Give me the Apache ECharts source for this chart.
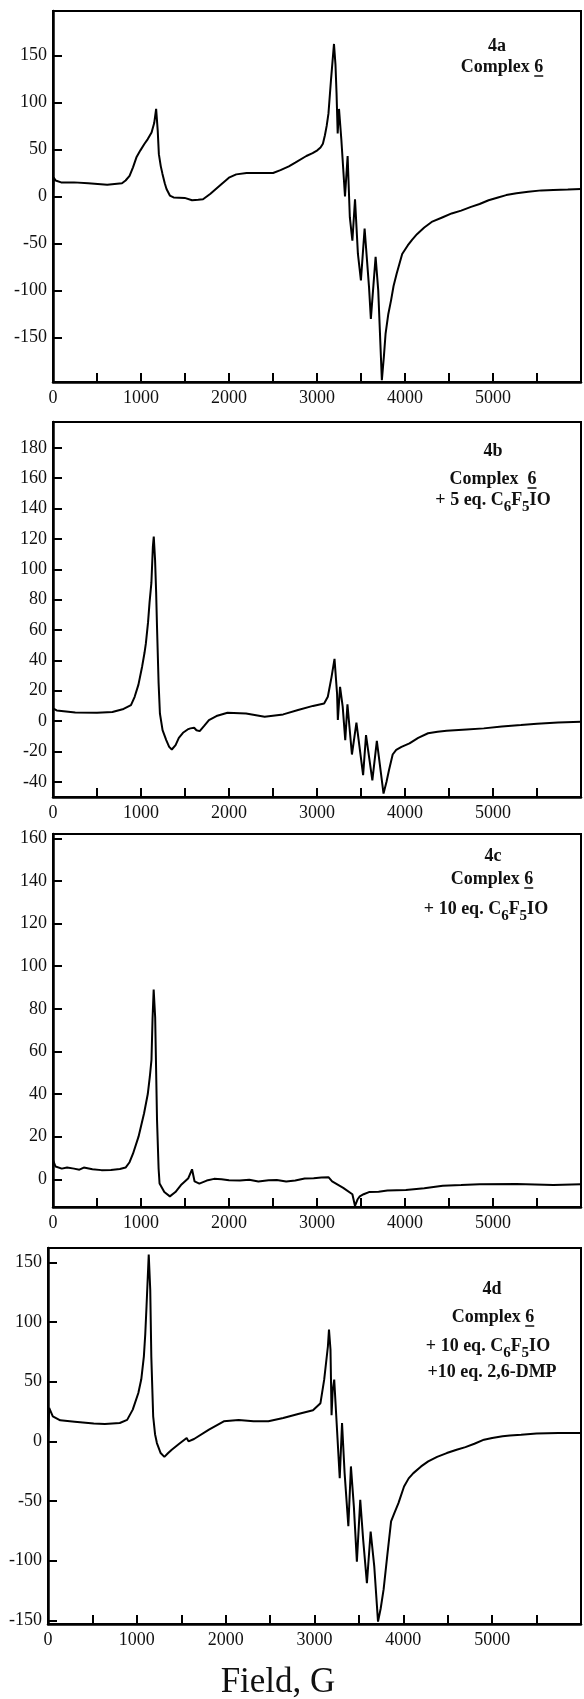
<!DOCTYPE html>
<html>
<head>
<meta charset="utf-8">
<title>EPR spectra 4a-4d</title>
<script src="https://cdn.jsdelivr.net/npm/echarts@6/dist/echarts.min.js"></script>
<style>
  html, body { margin: 0; padding: 0; background: #fff; }
  #main { width: 584px; height: 1699px; }
</style>
</head>
<body>
<div id="main"></div>
<script>
// field (G), signal
var spectrumA = [
	[0, 2], [8, 20], [30, 17], [92, 15], [239, 15], [400, 14], [616, 12.5], [784, 14], [825, 17],
	[870, 22], [909, 31], [950, 42], [993, 49], [1040, 56], [1077, 61], [1120, 68], [1150, 78],
	[1172, 93], [1190, 70], [1203, 45], [1225, 32], [1244, 24], [1270, 14], [1290, 8], [1328, 1],
	[1370, -1], [1496, -1.5], [1580, -4], [1650, -3.5], [1705, -3], [1789, 3], [1900, 12],
	[1999, 20], [2082, 23.5], [2200, 25], [2334, 25], [2501, 25], [2585, 28], [2680, 32],
	[2753, 36], [2879, 43], [2950, 46], [3004, 49], [3040, 52], [3067, 56], [3090, 65], [3110, 75],
	[3130, 88], [3160, 125], [3193, 162], [3210, 140], [3222, 110], [3235, 67], [3250, 93],
	[3277, 60], [3318, 0], [3348, 43], [3373, -22], [3402, -47], [3432, -3], [3465, -61],
	[3499, -89], [3541, -34], [3591, -96], [3612, -130], [3666, -64], [3696, -100], [3737, -195],
	[3760, -170], [3779, -146], [3810, -125], [3842, -110], [3870, -95], [3905, -82], [3968, -61],
	[4031, -52], [4080, -46], [4136, -40], [4219, -33], [4303, -27], [4429, -22], [4530, -18],
	[4638, -15], [4750, -11], [4848, -8], [4950, -4], [5057, -1], [5150, 1.5], [5267, 3.5],
	[5400, 5], [5550, 6.5], [5686, 7], [5850, 7.5], [6000, 8]
];
var spectrumB = [
	[0, 8.4], [42, 7], [253, 5.7], [500, 5.5], [675, 6], [802, 8], [886, 10.5], [928, 16], [971, 24],
	[1013, 36], [1040, 45], [1055, 51], [1080, 65], [1097, 78], [1118, 91], [1135, 115],
	[1145, 121.5], [1160, 106], [1172, 85], [1182, 62], [1200, 25], [1215, 5], [1245, -6],
	[1287, -12.5], [1320, -17], [1350, -18.7], [1393, -15.8], [1430, -11], [1477, -7.7],
	[1530, -5.5], [1561, -4.8], [1604, -4.4], [1630, -6], [1667, -6.6], [1720, -3], [1772, 0.7],
	[1857, 3.3], [1983, 5.5], [2194, 5], [2405, 2.9], [2616, 4.4], [2785, 7.3], [2954, 10],
	[3081, 11.6], [3123, 16], [3165, 29], [3199, 41], [3228, 18], [3237, 0.7], [3262, 22.6],
	[3292, 9.5], [3321, -12.5], [3346, 11], [3397, -22], [3448, -1], [3524, -35.6], [3557, -9.2],
	[3629, -39], [3680, -13], [3756, -47.7], [3790, -40], [3819, -32], [3860, -22], [3900, -19],
	[3960, -17], [4051, -14.7], [4150, -11], [4262, -8], [4370, -7], [4473, -6.4], [4700, -5.5],
	[4895, -4.8], [5100, -3.5], [5317, -2.6], [5500, -1.8], [5739, -1], [6000, -0.4]
];
var spectrumC = [
	[0, 9], [29, 6], [100, 5], [160, 5.5], [239, 5], [300, 4.5], [350, 5.5], [448, 4.7], [550, 4.3],
	[658, 4.4], [760, 4.8], [825, 5.5], [870, 8], [909, 12], [972, 20], [1035, 31], [1077, 40],
	[1100, 48], [1119, 56], [1131, 75], [1144, 89], [1161, 76], [1182, 28], [1200, 5], [1211, -2],
	[1265, -6], [1328, -8], [1391, -6], [1454, -2.7], [1538, 0.5], [1580, 4.7], [1609, -1],
	[1663, -2], [1747, -0.6], [1830, 0.2], [1915, 0], [2000, -0.5], [2124, -0.6], [2230, -0.2],
	[2334, -1], [2450, -0.4], [2543, -0.3], [2650, -1], [2753, -0.6], [2860, 0.4], [2962, 0.5],
	[3050, 0.8], [3130, 1], [3172, -1], [3298, -4], [3402, -7], [3432, -12.5], [3460, -9.5],
	[3486, -8], [3530, -7], [3591, -6], [3700, -5.8], [3800, -5.3], [4010, -5], [4219, -4.2],
	[4429, -3], [4638, -2.7], [4848, -2.3], [5267, -2.2], [5686, -2.7], [6000, -2.3]
];
var spectrumD = [
	[0, 1], [13, 28], [54, 21], [138, 17.6], [300, 16.5], [515, 15], [640, 14.5], [808, 15.4],
	[891, 18], [954, 26.6], [1017, 40.5], [1050, 52], [1079, 71], [1095, 90], [1109, 113],
	[1134, 156.6], [1151, 127], [1163, 71], [1184, 21], [1205, 6], [1226, -1.4], [1268, -9.8],
	[1310, -13], [1350, -10], [1393, -7], [1477, -2], [1561, 2.8], [1582, 0], [1644, 2],
	[1812, 9.8], [1979, 16.8], [2146, 18], [2314, 16.8], [2481, 16.8], [2648, 19.6], [2816, 23],
	[2983, 26], [3067, 32], [3109, 51.7], [3151, 79.7], [3163, 93.7], [3180, 77], [3192, 22],
	[3205, 43], [3222, 51.7], [3243, 23.8], [3284, -30.8], [3310, 15.4], [3339, -26.6],
	[3381, -71], [3410, -21], [3443, -54.5], [3477, -100.7], [3515, -49], [3548, -82.5],
	[3590, -118.8], [3632, -75.5], [3673, -105], [3715, -151], [3745, -140], [3778, -124],
	[3820, -95], [3862, -67], [3900, -60], [3945, -51.7], [4008, -37.8], [4060, -31],
	[4113, -26.6], [4200, -21], [4280, -16.8], [4380, -13], [4489, -9.8], [4600, -7],
	[4699, -4.8], [4800, -2], [4908, 1.4], [5000, 2.8], [5117, 4.2], [5200, 5], [5326, 5.6],
	[5500, 6.5], [5745, 7], [6000, 7]
];

var xTickLabels = [0, 1000, 2000, 3000, 4000, 5000];
var yTickLabelsA = [-150, -100, -50, 0, 50, 100, 150];
var yTickLabelsB = [-40, -20, 0, 20, 40, 60, 80, 100, 120, 140, 160, 180];
var yTickLabelsC = [0, 20, 40, 60, 80, 100, 120, 140, 160];
var yTickLabelsD = [-150, -100, -50, 0, 50, 100, 150];
var yRangeA = [-197, 197];
var yRangeB = [-50, 197];
var yRangeC = [-13, 162];
var yRangeD = [-153, 162];

var serif = '"Liberation Serif", "DejaVu Serif", serif';
var myChart = echarts.init(document.getElementById('main'), null, { renderer: 'canvas' });

var grids = [
	{ left: 53, top: 11, width: 530, height: 371 },
	{ left: 53, top: 422, width: 530, height: 375 },
	{ left: 53, top: 834, width: 530, height: 373 },
	{ left: 48, top: 1248, width: 535, height: 376 }
];
var panels = [
	{ data: spectrumA, range: yRangeA, labels: yTickLabelsA, split: 8 },
	{ data: spectrumB, range: yRangeB, labels: yTickLabelsB, split: 12 },
	{ data: spectrumC, range: yRangeC, labels: yTickLabelsC, split: 9 },
	{ data: spectrumD, range: yRangeD, labels: yTickLabelsD, split: 6 }
];

function xAxisFor(i) {
	return {
		type: 'value', gridIndex: i, min: 0, max: 6000, interval: 500,
		axisLine: { onZero: false, lineStyle: { color: '#000', width: 2.5 } },
		axisTick: { inside: true, length: 9, lineStyle: { color: '#000', width: 2 } },
		splitLine: { show: false },
		axisLabel: {
			color: '#111', fontFamily: serif, fontSize: 18, margin: 7,
			formatter: function(v) { return xTickLabels.indexOf(v) >= 0 ? String(v) : ''; }
		}
	};
}
function yAxisFor(i) {
	var p = panels[i];
	return {
		type: 'value', gridIndex: i, min: p.range[0], max: p.range[1], splitNumber: p.split,
		axisLine: { onZero: false, lineStyle: { color: '#000', width: 2.5 } },
		axisTick: { inside: true, length: 9, lineStyle: { color: '#000', width: 2 } },
		splitLine: { show: false },
		axisLabel: {
			color: '#111', fontFamily: serif, fontSize: 18, margin: 6,
			formatter: function(v) { return p.labels.indexOf(v) >= 0 ? String(v) : ''; }
		}
	};
}

var boldFont = 'bold 18px ' + serif;
var measureCtx = document.createElement('canvas').getContext('2d');
function textWidth(t) {
	measureCtx.font = boldFont;
	return measureCtx.measureText(t).width;
}

var bold = { fontSize: 18, fontWeight: 'bold', fontFamily: serif, fill: '#111', lineHeight: 20, verticalAlign: 'top' };
var sub = { fontSize: 15, fontWeight: 'bold', fontFamily: serif, fill: '#111', padding: [9, 0, 0, 0], verticalAlign: 'bottom' };
function note(x, y, text) {
	return {
		type: 'text', x: x, y: y, silent: true,
		style: {
			text: text, align: 'center', verticalAlign: 'middle',
			fontSize: 18, fontWeight: 'bold', fontFamily: serif, fill: '#111',
			rich: { n: bold, s: sub }
		}
	};
}
// "Complex 6" with the 6 underlined, as in the original figure
function complexNote(x, y, text) {
	var w = textWidth(text), w6 = textWidth('6');
	return [
		note(x, y, '{n|' + text + '}'),
		{
			type: 'line', silent: true,
			shape: { x1: x + w / 2 - w6, y1: y + 8, x2: x + w / 2, y2: y + 8 },
			style: { stroke: '#111', lineWidth: 1.5 }
		}
	];
}

var option = {
	animation: false,
	backgroundColor: '#fff',
	grid: grids.map(function(g) {
		return Object.assign({ show: true, borderColor: '#000', borderWidth: 2, backgroundColor: 'transparent' }, g);
	}),
	xAxis: [0, 1, 2, 3].map(xAxisFor),
	yAxis: [0, 1, 2, 3].map(yAxisFor),
	series: panels.map(function(p, i) {
		return {
			type: 'line', xAxisIndex: i, yAxisIndex: i, data: p.data,
			showSymbol: false, smooth: false,
			lineStyle: { color: '#000', width: 2 }
		};
	}),
	graphic: [].concat(
		note(497, 47, '{n|4a}'),
		complexNote(502, 68, 'Complex 6'),
		note(493, 452, '{n|4b}'),
		complexNote(493, 480, 'Complex  6'),
		note(493, 503, '{n|+ 5 eq. C}{s|6}{n|F}{s|5}{n|IO}'),
		note(493, 857, '{n|4c}'),
		complexNote(492, 880, 'Complex 6'),
		note(486, 912, '{n|+ 10 eq. C}{s|6}{n|F}{s|5}{n|IO}'),
		note(492, 1290, '{n|4d}'),
		complexNote(493, 1318, 'Complex 6'),
		note(488, 1349, '{n|+ 10 eq. C}{s|6}{n|F}{s|5}{n|IO}'),
		note(492, 1373, '{n|+10 eq. 2,6-DMP}'),
		{
			type: 'text', x: 278, y: 1683, silent: true,
			style: { text: 'Field, G', align: 'center', verticalAlign: 'middle', fontSize: 35, fontFamily: serif, fill: '#111' }
		}
	)
};
myChart.setOption(option);
</script>
</body>
</html>
